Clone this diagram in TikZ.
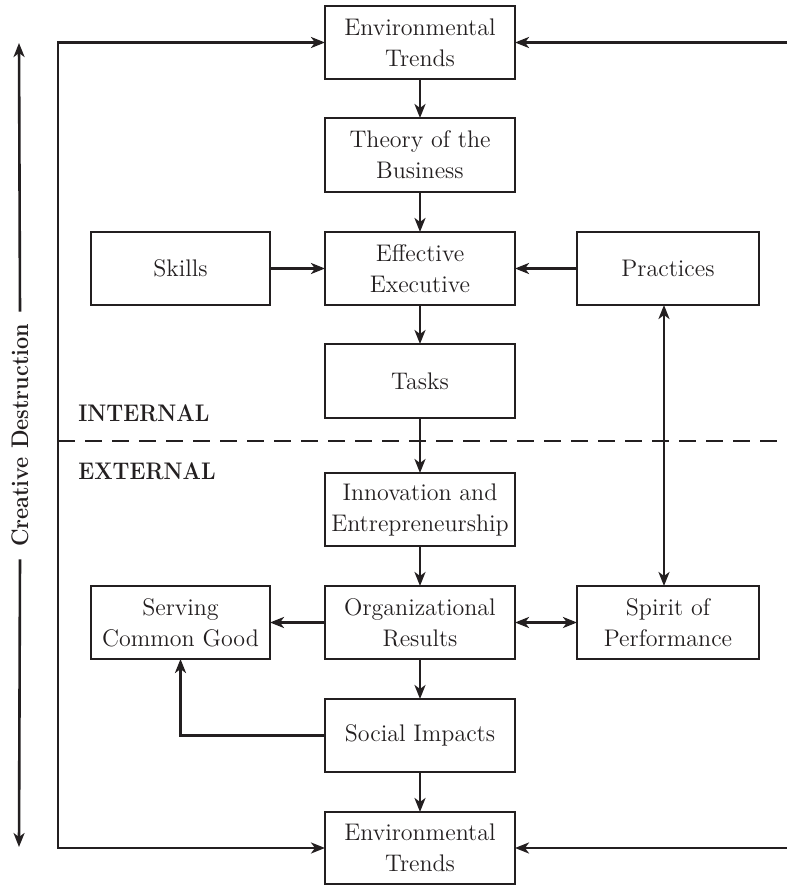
\documentclass[tikz,border=0pt]{standalone}
\usepackage{graphicx}
\usetikzlibrary{arrows.meta,calc}
\definecolor{ink}{HTML}{231F20}
\begin{document}
\begin{tikzpicture}[x=0.5pt,y=-0.5pt,
  box/.style={draw=ink,line width=0.8pt,inner sep=0pt,outer sep=0pt,align=center,
    text=ink,font=\fontsize{12}{15.5}\selectfont,minimum height=36.5pt},
  midcol/.style={box,minimum width=95pt},
  leftcol/.style={box,minimum width=89.5pt},
  rightcol/.style={box,minimum width=91pt},
  arr/.style={draw=ink,line width=1.3pt,-{Stealth[length=7pt,width=5.5pt,inset=2pt]}},
  darr/.style={draw=ink,line width=1.3pt,{Stealth[length=7pt,width=5.5pt,inset=2pt]}-{Stealth[length=7pt,width=5.5pt,inset=2pt]}},
  lbl/.style={text=ink,inner sep=0pt,font=\fontsize{12}{14}\selectfont\bfseries}]
\useasboundingbox (0,0) rectangle (787,885);

% boxes
\node[midcol] (envT) at (420,42.5) {Environmental\\Trends};
\node[midcol,minimum height=37pt] (theory) at (420,155) {Theory of the\\Business};
\node[leftcol] (skills) at (180.5,268.5) {Skills};
\node[midcol] (eff) at (420,268.5) {Effective\\Executive};
\node[rightcol] (prac) at (668,268.5) {Practices};
\node[midcol,minimum height=37pt] (tasks) at (420,381) {Tasks};
\node[midcol] (innov) at (420,509.5) {Innovation and\\Entrepreneurship};
\node[leftcol] (serv) at (180.5,622.5) {Serving\\Common Good};
\node[midcol] (org) at (420,622.5) {Organizational\\Results};
\node[rightcol] (spirit) at (668,622.5) {Spirit of\\Performance};
\node[midcol] (social) at (420,735.5) {Social Impacts};
\node[midcol,minimum height=36pt] (envB) at (420,848) {Environmental\\Trends};

% coordinates
\coordinate (lc) at (58,445);
\coordinate (R1) at (787,42.5);
\coordinate (R2) at (787,848);
\coordinate (dL) at (58,441);
\coordinate (dR) at (787,441);
\coordinate (cdT) at (19,43);
\coordinate (cdB) at (19,847);

% dashed divider
\draw[ink,line width=1.3pt,dash pattern=on 8.5pt off 5pt] (dL) -- (dR);

% labels
\node[lbl,anchor=base west] (int) at (78,421) {\scalebox{0.9}[1]{INTERNAL}};
\node[lbl,anchor=base west] (ext) at (78,479) {\scalebox{0.9}[1]{EXTERNAL}};
\node[lbl,rotate=90,inner xsep=6pt] (cd) at (20,435.5) {\scalebox{0.9}[1]{Creative Destruction}};

% connectors
\draw[arr] (envT) -- (theory);
\draw[arr] (theory) -- (eff);
\draw[arr] (skills) -- (eff);
\draw[arr] (prac) -- (eff);
\draw[arr] (eff) -- (tasks);
\draw[arr] (tasks) -- (innov);
\draw[arr] (innov) -- (org);
\draw[arr] (org) -- (serv);
\draw[darr] (org) -- (spirit);
\draw[darr] ($(prac.south)+(-4,0)$) -- ($(spirit.north)+(-4,0)$);
\draw[arr] (org) -- (social);
\draw[arr] (social.west) -| (serv.south);
\draw[arr] (social) -- (envB);
\draw[darr] (envT.west) -| (lc) |- (envB.west);
\draw[arr] (R1) -- (envT.east);
\draw[arr] (R2) -- (envB.east);
\draw[arr] (cd.east) -- (cdT);
\draw[arr] (cd.west) -- (cdB);
\end{tikzpicture}
\end{document}
